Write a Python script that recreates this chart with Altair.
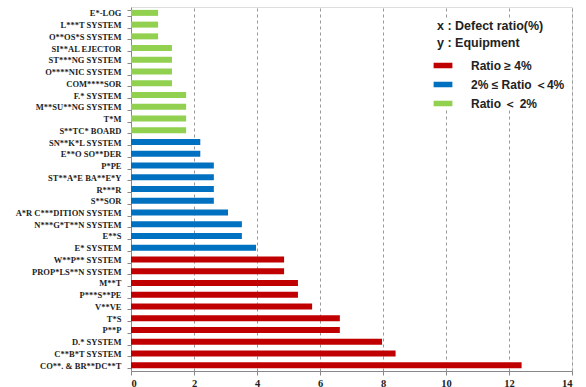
import altair as alt
import pandas as pd

equipment = [
    "E*-LOG", "L***T SYSTEM", "O**OS*S SYSTEM", "SI**AL EJECTOR", "ST***NG SYSTEM",
    "O****NIC SYSTEM", "COM****SOR", "F.* SYSTEM", "M**SU**NG SYSTEM", "T*M",
    "S**TC* BOARD", "SN**K*L SYSTEM", "E**O SO**DER", "P*PE", "ST**A*E BA**E*Y",
    "R***R", "S**SOR", "A*R C***DITION SYSTEM", "N***G*T**N SYSTEM", "E**S",
    "E* SYSTEM", "W**P** SYSTEM", "PROP*LS**N SYSTEM", "M**T", "P***S**PE",
    "V**VE", "T*S", "P**P", "D.* SYSTEM", "C**B*T SYSTEM", "CO**. & BR**DC**T",
]
ratio = [
    0.86, 0.86, 0.86, 1.3, 1.3,
    1.3, 1.3, 1.75, 1.75, 1.75,
    1.75, 2.2, 2.2, 2.63, 2.63,
    2.63, 2.63, 3.08, 3.52, 3.52,
    3.97, 4.86, 4.86, 5.3, 5.3,
    5.75, 6.63, 6.63, 7.97, 8.4, 12.4,
]
classes = ["\u00a0\u00a0\u00a0Ratio ≥ 4%", "2% ≤ Ratio ＜4%", "Ratio ＜ 2%"]
class_colors = ["#C00000", "#0070C0", "#92D050"]
x_ticks = [0, 2, 4, 6, 8, 10, 12, 14]


def cls(v):
    if v >= 4:
        return classes[0]
    if v >= 2:
        return classes[1]
    return classes[2]


df = pd.DataFrame({"equipment": equipment, "ratio": ratio,
                   "cls": [cls(v) for v in ratio]})

FONT = "Liberation Sans Narrow"
LFONT = "Liberation Sans"

bars = alt.Chart(df).mark_bar(size=6).encode(
    x=alt.X("ratio:Q", scale=alt.Scale(domain=[0, 14], nice=False),
            axis=alt.Axis(values=x_ticks, title=None, grid=True, gridDash=[3, 3],
                          gridColor="#999999", labelFont=FONT, labelFontWeight="bold",
                          labelFontSize=10.5, labelColor="#222222", domainColor="#888888",
                          tickColor="#888888", tickSize=4, labelPadding=3)),
    y=alt.Y("equipment:N", sort=equipment, title=None,
            scale=alt.Scale(paddingInner=0.48, paddingOuter=0.24),
            axis=alt.Axis(labelFont=FONT, labelFontWeight="bold", labelFontSize=8.5,
                          labelColor="#222222", domainColor="#888888",
                          tickColor="#888888", tickSize=4, tickBand="extent",
                          labelPadding=6)),
    color=alt.Color("cls:N", scale=alt.Scale(domain=classes, range=class_colors),
                    legend=alt.Legend(
                        title=["x : Defect ratio(%)", "y : Equipment"],
                        titleFont=LFONT, titleFontSize=12.5, titleFontWeight="bold",
                        titleColor="#222222", titleLineHeight=17, titlePadding=10,
                        labelFont=LFONT, labelFontSize=12, labelFontWeight="bold",
                        labelColor="#222222", labelOffset=22,
                        symbolType="M-1.7,-0.5H1.7V0.5H-1.7Z", symbolSize=122,
                        symbolStrokeWidth=0, rowPadding=7,
                        orient="none", legendX=306, legendY=13,
                        fillColor="white")),
)

chart = bars.properties(
    width=441, height=364,
    autosize=alt.AutoSizeParams(type="none"),
    padding={"left": 131, "top": 7, "right": 14, "bottom": 16},
).configure_view(stroke=None).configure(background="white")

chart.save("out.html", embed_options={"renderer": "svg", "actions": False})
